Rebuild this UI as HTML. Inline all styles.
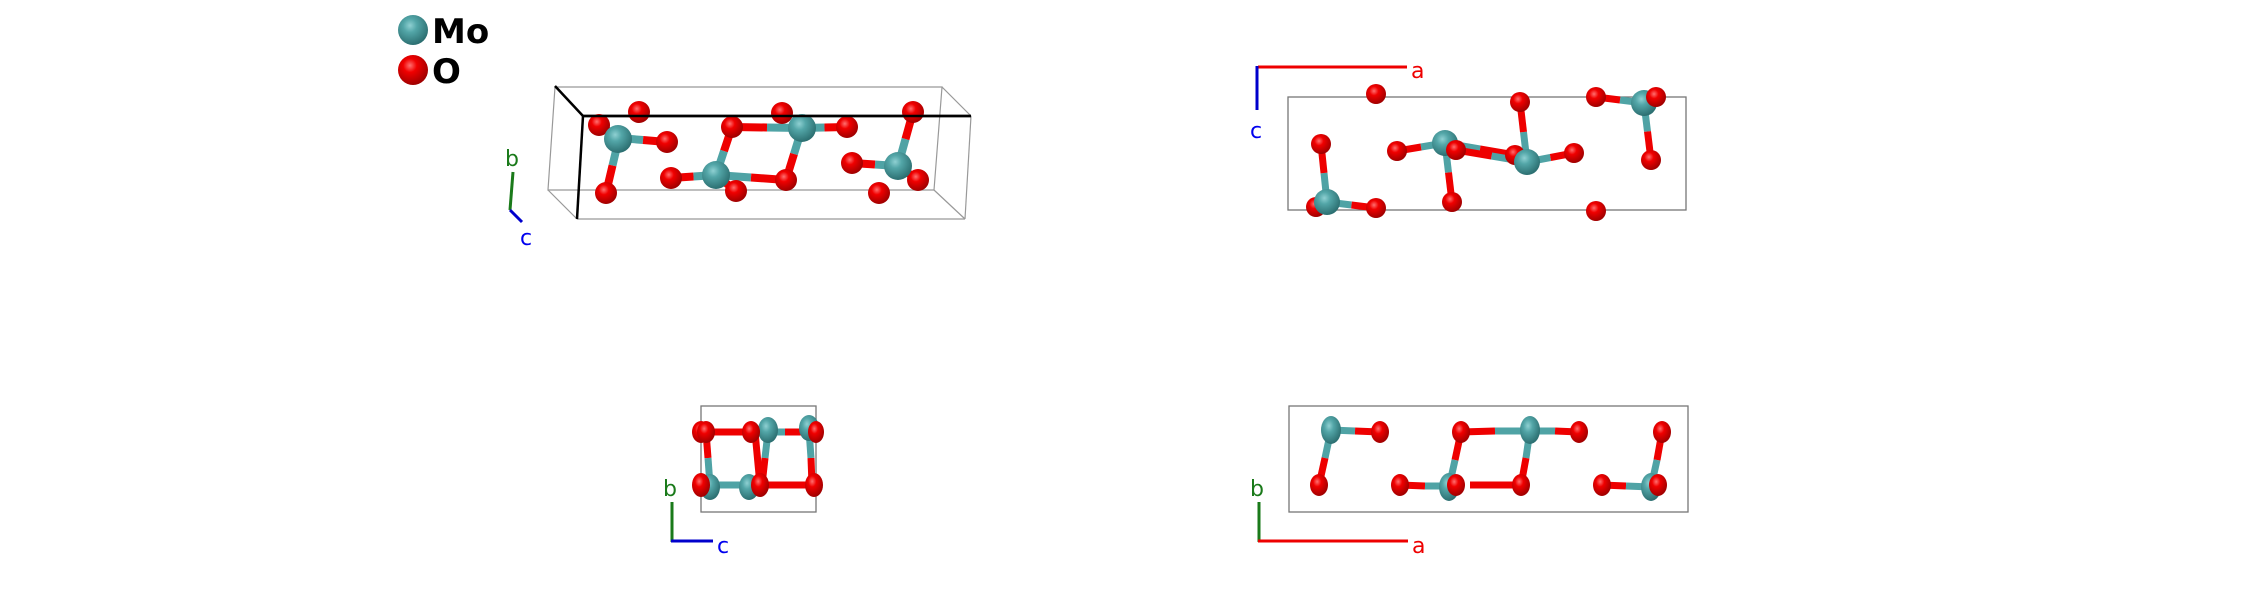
<!DOCTYPE html>
<html><head><meta charset="utf-8"><style>
html,body{margin:0;padding:0;background:#fff;}
svg{display:block}
text{font-family:"DejaVu Sans","Liberation Sans",sans-serif}
</style></head><body>
<svg width="2244" height="612" viewBox="0 0 2244 612" xmlns="http://www.w3.org/2000/svg">
<defs>
<radialGradient id="gm" cx="0.4" cy="0.35" r="0.65"><stop offset="0" stop-color="#8fd0d2"/><stop offset="0.35" stop-color="#53a6a8"/><stop offset="1" stop-color="#2c6f71"/></radialGradient>
<radialGradient id="go" cx="0.4" cy="0.35" r="0.65"><stop offset="0" stop-color="#ff7070"/><stop offset="0.35" stop-color="#f00000"/><stop offset="1" stop-color="#a00000"/></radialGradient>
</defs>

<!-- legend -->
<circle cx="413" cy="30" r="15" fill="url(#gm)"/>
<text x="432" y="43" font-size="34" font-weight="bold" fill="#000">Mo</text>
<circle cx="413" cy="70" r="15" fill="url(#go)"/>
<text x="432" y="83" font-size="34" font-weight="bold" fill="#000">O</text>

<!-- panel 1 box -->
<g fill="none" stroke="#999" stroke-width="1.2">
<polygon points="555,87 942,87 934,190 548,190"/>
<line x1="942" y1="87" x2="971" y2="116"/>
<line x1="934" y1="190" x2="965" y2="219"/>
<line x1="548" y1="190" x2="577" y2="219"/>
<line x1="971" y1="116" x2="965" y2="219"/>
<line x1="965" y1="219" x2="577" y2="219"/>
</g>
<g stroke="#000" stroke-width="2.5">
<line x1="555" y1="86" x2="583" y2="116"/>
<line x1="583" y1="116" x2="971" y2="116"/>
<line x1="583" y1="116" x2="577" y2="219"/>
</g>
<line x1="513" y1="172" x2="510" y2="210" stroke="#1a7a1a" stroke-width="3"/>
<line x1="510" y1="210" x2="522" y2="222" stroke="#0000cc" stroke-width="3"/>
<text x="505" y="166" font-size="22" fill="#1a7a1a">b</text>
<text x="520" y="245" font-size="22" fill="#0000ee">c</text>

<g stroke-width="8">
<line x1="619" y1="138" x2="609" y2="131.5" stroke="#4fa3a5"/><line x1="609" y1="131.5" x2="599" y2="125" stroke="#e00"/>
<line x1="619" y1="138" x2="643" y2="140" stroke="#4fa3a5"/><line x1="643" y1="140" x2="667" y2="142" stroke="#e00"/>
<line x1="619" y1="138" x2="612.5" y2="165.5" stroke="#4fa3a5"/><line x1="612.5" y1="165.5" x2="606" y2="193" stroke="#e00"/>
<line x1="716" y1="175" x2="693.5" y2="176.5" stroke="#4fa3a5"/><line x1="693.5" y1="176.5" x2="671" y2="178" stroke="#e00"/>
<line x1="716" y1="175" x2="724" y2="151" stroke="#4fa3a5"/><line x1="724" y1="151" x2="732" y2="127" stroke="#e00"/>
<line x1="716" y1="175" x2="751" y2="177.5" stroke="#4fa3a5"/><line x1="751" y1="177.5" x2="786" y2="180" stroke="#e00"/>
<line x1="716" y1="175" x2="726" y2="183" stroke="#4fa3a5"/><line x1="726" y1="183" x2="736" y2="191" stroke="#e00"/>
<line x1="802" y1="128" x2="767" y2="127.5" stroke="#4fa3a5"/><line x1="767" y1="127.5" x2="732" y2="127" stroke="#e00"/>
<line x1="802" y1="128" x2="824.5" y2="127.5" stroke="#4fa3a5"/><line x1="824.5" y1="127.5" x2="847" y2="127" stroke="#e00"/>
<line x1="802" y1="128" x2="794" y2="154" stroke="#4fa3a5"/><line x1="794" y1="154" x2="786" y2="180" stroke="#e00"/>
<line x1="898" y1="166" x2="905.5" y2="139" stroke="#4fa3a5"/><line x1="905.5" y1="139" x2="913" y2="112" stroke="#e00"/>
<line x1="898" y1="166" x2="875" y2="164.5" stroke="#4fa3a5"/><line x1="875" y1="164.5" x2="852" y2="163" stroke="#e00"/>
<line x1="898" y1="166" x2="908" y2="173" stroke="#4fa3a5"/><line x1="908" y1="173" x2="918" y2="180" stroke="#e00"/>
</g>
<g fill="url(#go)">
<circle cx="639" cy="112" r="11"/><circle cx="599" cy="125" r="11"/><circle cx="667" cy="142" r="11"/><circle cx="606" cy="193" r="11"/>
<circle cx="732" cy="127" r="11"/><circle cx="782" cy="113" r="11"/><circle cx="847" cy="127" r="11"/><circle cx="671" cy="178" r="11"/>
<circle cx="736" cy="191" r="11"/><circle cx="786" cy="180" r="11"/><circle cx="913" cy="112" r="11"/><circle cx="852" cy="163" r="11"/>
<circle cx="918" cy="180" r="11"/><circle cx="879" cy="193" r="11"/>
</g>
<g fill="url(#gm)">
<circle cx="618" cy="139" r="14"/><circle cx="716" cy="175" r="14"/><circle cx="802" cy="128" r="14"/><circle cx="898" cy="166" r="14"/>
</g>
<line x1="583" y1="116" x2="971" y2="116" stroke="#000" stroke-width="2.5"/>

<!-- panel 2 (a-c) -->
<rect x="1288" y="97" width="398" height="113" fill="none" stroke="#777" stroke-width="1.3"/>
<line x1="1258" y1="67" x2="1407" y2="67" stroke="#e00" stroke-width="3"/>
<line x1="1257" y1="66" x2="1257" y2="110" stroke="#0000cc" stroke-width="3"/>
<text x="1411" y="78" font-size="22" fill="#e00">a</text>
<text x="1250" y="138" font-size="22" fill="#0000ee">c</text>
<g stroke-width="7">
<line x1="1445" y1="143" x2="1421" y2="147" stroke="#4fa3a5"/><line x1="1421" y1="147" x2="1397" y2="151" stroke="#e00"/>
<line x1="1445" y1="143" x2="1448.5" y2="172.5" stroke="#4fa3a5"/><line x1="1448.5" y1="172.5" x2="1452" y2="202" stroke="#e00"/>
<line x1="1445" y1="143" x2="1480" y2="149" stroke="#4fa3a5"/><line x1="1480" y1="149" x2="1515" y2="155" stroke="#e00"/>
<line x1="1527" y1="162" x2="1491.5" y2="156" stroke="#4fa3a5"/><line x1="1491.5" y1="156" x2="1456" y2="150" stroke="#e00"/>
<line x1="1527" y1="162" x2="1523.5" y2="132" stroke="#4fa3a5"/><line x1="1523.5" y1="132" x2="1520" y2="102" stroke="#e00"/>
<line x1="1527" y1="162" x2="1550.5" y2="157.5" stroke="#4fa3a5"/><line x1="1550.5" y1="157.5" x2="1574" y2="153" stroke="#e00"/>
<line x1="1644" y1="103" x2="1620" y2="100" stroke="#4fa3a5"/><line x1="1620" y1="100" x2="1596" y2="97" stroke="#e00"/>
<line x1="1644" y1="103" x2="1647.5" y2="131.5" stroke="#4fa3a5"/><line x1="1647.5" y1="131.5" x2="1651" y2="160" stroke="#e00"/>
<line x1="1327" y1="202" x2="1324" y2="173" stroke="#4fa3a5"/><line x1="1324" y1="173" x2="1321" y2="144" stroke="#e00"/>
<line x1="1327" y1="202" x2="1351.5" y2="205" stroke="#4fa3a5"/><line x1="1351.5" y1="205" x2="1376" y2="208" stroke="#e00"/>
</g>
<g fill="url(#go)">
<circle cx="1376" cy="94" r="10"/><circle cx="1520" cy="102" r="10"/><circle cx="1596" cy="97" r="10"/>
<circle cx="1321" cy="144" r="10"/><circle cx="1397" cy="151" r="10"/><circle cx="1515" cy="155" r="10"/><circle cx="1574" cy="153" r="10"/>
<circle cx="1651" cy="160" r="10"/><circle cx="1316" cy="207" r="10"/><circle cx="1376" cy="208" r="10"/><circle cx="1452" cy="202" r="10"/><circle cx="1596" cy="211" r="10"/>
</g>
<g fill="url(#gm)">
<circle cx="1445" cy="143" r="13"/><circle cx="1527" cy="162" r="13"/><circle cx="1644" cy="103" r="13"/><circle cx="1327" cy="202" r="13"/>
</g>
<g fill="url(#go)">
<circle cx="1456" cy="150" r="10"/><circle cx="1656" cy="97" r="10"/>
</g>

<!-- panel 3 (b-c) -->
<rect x="701" y="406" width="115" height="106" fill="none" stroke="#777" stroke-width="1.3"/>
<line x1="672" y1="502" x2="672" y2="542" stroke="#1a7a1a" stroke-width="3"/>
<line x1="671" y1="541" x2="713" y2="541" stroke="#0000cc" stroke-width="3"/>
<text x="663" y="496" font-size="22" fill="#1a7a1a">b</text>
<text x="717" y="553" font-size="22" fill="#0000ee">c</text>
<g stroke-width="7">
<line x1="701" y1="432" x2="768" y2="432" stroke="#e00"/><line x1="768" y1="432" x2="816" y2="432" stroke="#4fa3a5"/><line x1="785" y1="432" x2="816" y2="432" stroke="#e00"/>
<line x1="701" y1="485" x2="760" y2="485" stroke="#4fa3a5"/><line x1="760" y1="485" x2="816" y2="485" stroke="#e00"/>
<line x1="706" y1="432" x2="708" y2="458" stroke="#e00"/><line x1="708" y1="458" x2="710" y2="485" stroke="#4fa3a5"/>
<line x1="755" y1="432" x2="760" y2="485" stroke="#e00"/>
<line x1="768" y1="432" x2="765" y2="458" stroke="#4fa3a5"/><line x1="765" y1="458" x2="762" y2="485" stroke="#e00"/>
<line x1="809" y1="430" x2="811" y2="458" stroke="#4fa3a5"/><line x1="811" y1="458" x2="812" y2="485" stroke="#e00"/>
</g>
<g>
<ellipse cx="768" cy="430" rx="10" ry="13" fill="url(#gm)"/>
<ellipse cx="809" cy="428" rx="10" ry="13" fill="url(#gm)"/>
<ellipse cx="701" cy="432" rx="9" ry="11" fill="url(#go)"/>
<ellipse cx="706" cy="432" rx="9" ry="11" fill="url(#go)"/>
<ellipse cx="751" cy="432" rx="9" ry="11" fill="url(#go)"/>
<ellipse cx="816" cy="432" rx="8" ry="11" fill="url(#go)"/>
<ellipse cx="710" cy="487" rx="10" ry="13" fill="url(#gm)"/>
<ellipse cx="749" cy="487" rx="10" ry="13" fill="url(#gm)"/>
<ellipse cx="701" cy="485" rx="9" ry="12" fill="url(#go)"/>
<ellipse cx="760" cy="485" rx="9" ry="12" fill="url(#go)"/>
<ellipse cx="814" cy="485" rx="9" ry="12" fill="url(#go)"/>
</g>

<!-- panel 4 (a-b) -->
<rect x="1289" y="406" width="399" height="106" fill="none" stroke="#777" stroke-width="1.3"/>
<line x1="1259" y1="502" x2="1259" y2="542" stroke="#1a7a1a" stroke-width="3"/>
<line x1="1258" y1="541" x2="1408" y2="541" stroke="#e00" stroke-width="3"/>
<text x="1250" y="496" font-size="22" fill="#1a7a1a">b</text>
<text x="1412" y="553" font-size="22" fill="#e00">a</text>
<g stroke-width="7">
<line x1="1331" y1="430" x2="1355" y2="431" stroke="#4fa3a5"/><line x1="1355" y1="431" x2="1380" y2="432" stroke="#e00"/>
<line x1="1331" y1="430" x2="1325" y2="458" stroke="#4fa3a5"/><line x1="1325" y1="458" x2="1319" y2="485" stroke="#e00"/>
<line x1="1461" y1="432" x2="1495" y2="431" stroke="#e00"/><line x1="1495" y1="431" x2="1555" y2="431" stroke="#4fa3a5"/><line x1="1555" y1="431" x2="1579" y2="432" stroke="#e00"/>
<line x1="1461" y1="432" x2="1455" y2="460" stroke="#e00"/><line x1="1455" y1="460" x2="1449" y2="487" stroke="#4fa3a5"/>
<line x1="1530" y1="430" x2="1526" y2="458" stroke="#4fa3a5"/><line x1="1526" y1="458" x2="1521" y2="485" stroke="#e00"/>
<line x1="1400" y1="485" x2="1425" y2="486" stroke="#e00"/><line x1="1425" y1="486" x2="1456" y2="486" stroke="#4fa3a5"/><line x1="1470" y1="485" x2="1521" y2="485" stroke="#e00"/>
<line x1="1662" y1="432" x2="1657" y2="460" stroke="#e00"/><line x1="1657" y1="460" x2="1651" y2="487" stroke="#4fa3a5"/>
<line x1="1602" y1="485" x2="1626" y2="486" stroke="#e00"/><line x1="1626" y1="486" x2="1651" y2="487" stroke="#4fa3a5"/>
</g>
<g>
<ellipse cx="1331" cy="430" rx="10" ry="14" fill="url(#gm)"/>
<ellipse cx="1530" cy="430" rx="10" ry="14" fill="url(#gm)"/>
<ellipse cx="1449" cy="487" rx="10" ry="14" fill="url(#gm)"/>
<ellipse cx="1651" cy="487" rx="10" ry="14" fill="url(#gm)"/>
<ellipse cx="1380" cy="432" rx="9" ry="11" fill="url(#go)"/>
<ellipse cx="1461" cy="432" rx="9" ry="11" fill="url(#go)"/>
<ellipse cx="1579" cy="432" rx="9" ry="11" fill="url(#go)"/>
<ellipse cx="1662" cy="432" rx="9" ry="11" fill="url(#go)"/>
<ellipse cx="1319" cy="485" rx="9" ry="11" fill="url(#go)"/>
<ellipse cx="1400" cy="485" rx="9" ry="11" fill="url(#go)"/>
<ellipse cx="1456" cy="485" rx="9" ry="11" fill="url(#go)"/>
<ellipse cx="1521" cy="485" rx="9" ry="11" fill="url(#go)"/>
<ellipse cx="1602" cy="485" rx="9" ry="11" fill="url(#go)"/>
<ellipse cx="1658" cy="485" rx="9" ry="11" fill="url(#go)"/>
</g>
</svg>
</body></html>
